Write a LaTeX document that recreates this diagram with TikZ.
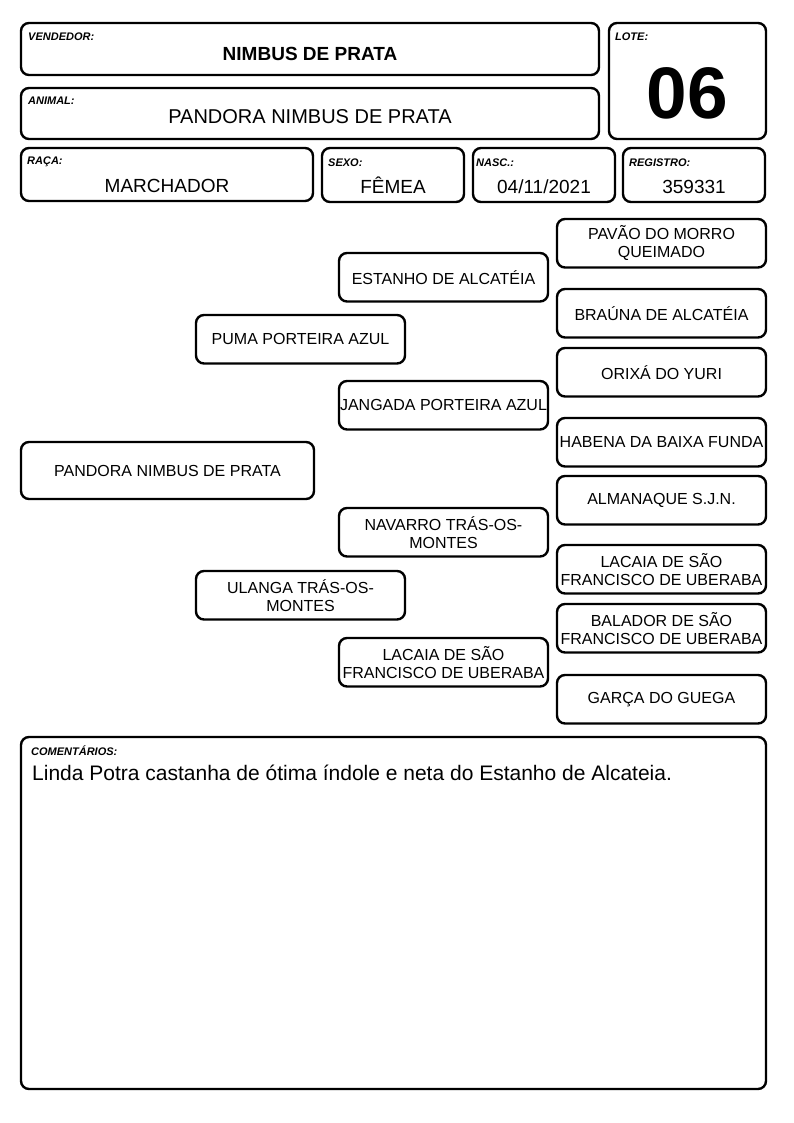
\documentclass[tikz,border=0pt]{standalone}
\usepackage{fontspec}
\setmainfont{Liberation Sans}
\usetikzlibrary{positioning}

\begin{document}
\begin{tikzpicture}[
    x=1pt, y=-1pt,
    field/.style={draw, line width=2.4pt, rounded corners=8pt, anchor=north west, inner sep=0pt, outer sep=0pt},
    tag/.style={font=\fontsize{11}{12}\selectfont\bfseries\itshape, inner sep=0pt, text height=7.9pt, text depth=0pt},
    value/.style={font=\fontsize{19}{22}\selectfont, inner sep=0pt, text height=13.6pt, text depth=0pt},
    horse/.style={field, minimum width=209pt, minimum height=48.5pt, align=center, font=\fontsize{16}{18}\selectfont}
]
    \useasboundingbox (0,0) rectangle (794,1123);

    % Seller
    \node[field, minimum width=578pt, minimum height=52pt] (vendor) at (21,23) {};
    \node[tag, below right=9pt and 7pt of vendor.north west] {VENDEDOR:};
    \node[value, font=\fontsize{19}{22}\selectfont\bfseries, below=23.4pt of vendor.north] {NIMBUS DE PRATA};

    % Animal
    \node[field, minimum width=578pt, minimum height=51pt] (animal) at (21,88) {};
    \node[tag, below right=8pt and 7pt of animal.north west] {ANIMAL:};
    \node[value, font=\fontsize{20}{23}\selectfont, text height=14.3pt, below=20.7pt of animal.north] {PANDORA NIMBUS DE PRATA};

    % Lot number
    \node[field, minimum width=157pt, minimum height=116pt] (lot) at (609,23) {};
    \node[tag, below right=9pt and 6pt of lot.north west] {LOTE:};
    \node[value, font=\fontsize{73}{80}\selectfont\bfseries, text height=52.3pt, below=42.7pt of lot.north] {06};

    % Breed, sex, birth, register
    \node[field, minimum width=292pt, minimum height=53pt] (breed) at (21,148) {};
    \node[tag, below right=8pt and 6pt of breed.north west] {RAÇA:};
    \node[value, below=30.4pt of breed.north] {MARCHADOR};

    \node[field, minimum width=142pt, minimum height=54pt] (sex) at (322,148) {};
    \node[tag, below right=10pt and 6pt of sex.north west] {SEXO:};
    \node[value, below=31.4pt of sex.north] {FÊMEA};

    \node[field, minimum width=142pt, minimum height=54pt] (birth) at (473,148) {};
    \node[tag, below right=10pt and 3pt of birth.north west] {NASC.:};
    \node[value, below=31.4pt of birth.north] {04/11/2021};

    \node[field, minimum width=142pt, minimum height=54pt] (regno) at (623,148) {};
    \node[tag, below right=10pt and 6pt of regno.north west] {REGISTRO:};
    \node[value, below=31.4pt of regno.north] {359331};

    % Pedigree
    \node[horse, minimum width=293pt, minimum height=57pt] (foal) at (21,442) {PANDORA NIMBUS DE PRATA};

    \node[horse] (sire) at (196,315) {PUMA PORTEIRA AZUL};
    \node[horse] (dam) at (196,571) {ULANGA TRÁS-OS-\\MONTES};

    \node[horse] (ss) at (339,253) {ESTANHO DE ALCATÉIA};
    \node[horse] (sd) at (339,381) {JANGADA PORTEIRA AZUL};
    \node[horse] (ds) at (339,508) {NAVARRO TRÁS-OS-\\MONTES};
    \node[horse] (dd) at (339,638) {LACAIA DE SÃO\\FRANCISCO DE UBERABA};

    \node[horse] (sss) at (557,219) {PAVÃO DO MORRO\\QUEIMADO};
    \node[horse] (ssd) at (557,289) {BRAÚNA DE ALCATÉIA};
    \node[horse] (sds) at (557,348) {ORIXÁ DO YURI};
    \node[horse] (sdd) at (557,418) {HABENA DA BAIXA FUNDA};
    \node[horse] (dss) at (557,476) {ALMANAQUE S.J.N.};
    \node[horse] (dsd) at (557,545) {LACAIA DE SÃO\\FRANCISCO DE UBERABA};
    \node[horse] (dds) at (557,604) {BALADOR DE SÃO\\FRANCISCO DE UBERABA};
    \node[horse] (ddd) at (557,675) {GARÇA DO GUEGA};

    % Comments
    \node[field, minimum width=745pt, minimum height=352pt] (comments) at (21,737) {};
    \node[tag, below right=10pt and 10pt of comments.north west] {COMENTÁRIOS:};
    \node[value, font=\fontsize{21}{24}\selectfont, text height=15pt, below right=28pt and 11pt of comments.north west] {Linda Potra castanha de ótima índole e neta do Estanho de Alcateia.};

\end{tikzpicture}
\end{document}
